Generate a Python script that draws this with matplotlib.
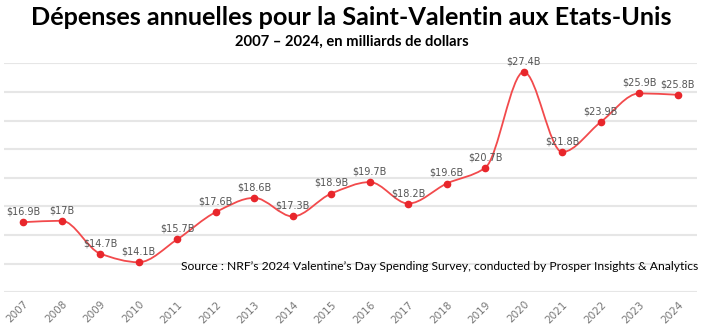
import numpy as np
import matplotlib
matplotlib.use("Agg")
import matplotlib.pyplot as plt
from matplotlib.path import Path
from matplotlib.patches import PathPatch

years = [2007, 2008, 2009, 2010, 2011, 2012, 2013, 2014, 2015,
         2016, 2017, 2018, 2019, 2020, 2021, 2022, 2023, 2024]
spending = [16.9, 17, 14.7, 14.1, 15.7, 17.6, 18.6, 17.3, 18.9,
            19.7, 18.2, 19.6, 20.7, 27.4, 21.8, 23.9, 25.9, 25.8]
labels = ["$16.9B", "$17B", "$14.7B", "$14.1B", "$15.7B", "$17.6B", "$18.6B", "$17.3B", "$18.9B",
          "$19.7B", "$18.2B", "$19.6B", "$20.7B", "$27.4B", "$21.8B", "$23.9B", "$25.9B", "$25.8B"]

title = "Dépenses annuelles pour la Saint-Valentin aux Etats-Unis"
subtitle = "2007 – 2024, en milliards de dollars"
source = "Source : NRF’s 2024 Valentine’s Day Spending Survey, conducted by Prosper Insights & Analytics"

LINE = "#f24a4c"
DOT = "#e8262b"
GREY = "#555555"


def smooth_path(x, y):
    # monotone cubic (Fritsch-Carlson) as bezier segments
    x = np.asarray(x, float)
    y = np.asarray(y, float)
    h = np.diff(x)
    d = np.diff(y) / h
    m = np.zeros_like(y)
    m[0], m[-1] = d[0], d[-1]
    for i in range(1, len(y) - 1):
        if d[i - 1] * d[i] > 0:
            m[i] = 2 / (1 / d[i - 1] + 1 / d[i])
    verts = [(x[0], y[0])]
    codes = [Path.MOVETO]
    for i in range(len(x) - 1):
        verts += [(x[i] + h[i] / 3, y[i] + m[i] * h[i] / 3),
                  (x[i + 1] - h[i] / 3, y[i + 1] - m[i + 1] * h[i] / 3),
                  (x[i + 1], y[i + 1])]
        codes += [Path.CURVE4] * 3
    return Path(verts, codes)


fig = plt.figure(figsize=(7.03, 3.33), dpi=100)
ax = fig.add_axes([0.0057, 0.1222, 0.9858, 0.6877])

ax.set_xlim(2006.5, 2024.5)
ax.set_ylim(12, 28)
ax.set_yticks(np.arange(12, 29, 2))
ax.yaxis.grid(True, color="#e6e6e6", linewidth=1.5)
ax.set_axisbelow(True)
for s in ax.spines.values():
    s.set_visible(False)
ax.tick_params(axis="y", length=0, labelleft=False)
ax.tick_params(axis="x", length=0, pad=5)
ax.set_xticks(years)
ax.set_xticklabels([str(y) for y in years], rotation=45, ha="right",
                   rotation_mode="anchor", fontsize=7.5, color="#777777")

ax.add_patch(PathPatch(smooth_path(years, spending), facecolor="none",
                       edgecolor=LINE, linewidth=1.3, clip_on=False))
ax.plot(years, spending, "o", color=DOT, markersize=4.5, clip_on=False, zorder=3)

for x, y, t in zip(years, spending, labels):
    ax.annotate(t, (x, y), xytext=(0, 4), textcoords="offset points",
                ha="center", va="bottom", fontsize=7, color=GREY)

fig.text(0.5, 0.946, title, ha="center", va="center", fontsize=18.2,
         fontweight="bold", family="Lato")
fig.text(0.5, 0.874, subtitle, ha="center", va="center", fontsize=10.6,
         fontweight="bold", family="Lato")
fig.text(0.993, 0.201, source, ha="right", va="center", fontsize=8.7,
         family="Lato")

fig.savefig("out.png", dpi=100)
